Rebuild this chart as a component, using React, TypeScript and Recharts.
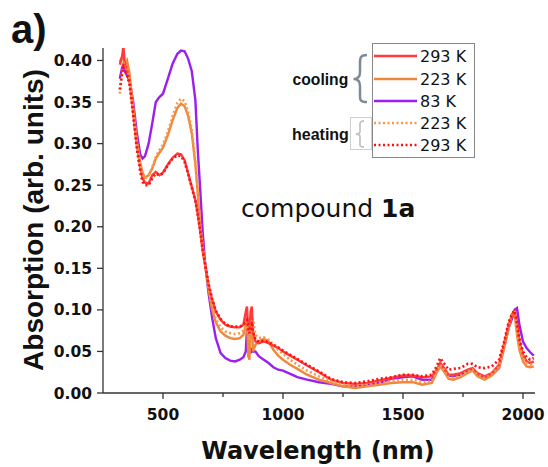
import { LineChart, Line, XAxis, YAxis } from 'recharts';

const wavelengths = [
  320, 330, 335, 340, 350, 360, 375, 390, 405, 415, 425, 440, 455, 470, 485, 500, 520, 540, 560, 575,
  590, 605, 620, 635, 645, 655, 665, 675, 690, 705, 720, 740, 760, 780, 800, 820, 835, 845, 850, 855,
  860, 865, 870, 875, 885, 900, 920, 940, 960, 980, 1000, 1030, 1060, 1100, 1150, 1200, 1250, 1300, 1350, 1400,
  1450, 1500, 1540, 1580, 1620, 1640, 1655, 1670, 1690, 1710, 1740, 1770, 1790, 1810, 1840, 1870, 1900, 1920, 1940, 1955,
  1965, 1975, 1985, 2000, 2015, 2030, 2045,
];

// cooling 293 K
const cool293 = [
  0.395, 0.405, 0.418, 0.398, 0.388, 0.378, 0.34, 0.3, 0.272, 0.258, 0.253, 0.252, 0.262, 0.266, 0.262, 0.265, 0.275, 0.283, 0.288, 0.287,
  0.28, 0.264, 0.248, 0.232, 0.215, 0.195, 0.172, 0.155, 0.13, 0.112, 0.098, 0.088, 0.082, 0.08, 0.079, 0.079, 0.082, 0.098, 0.104, 0.075,
  0.072, 0.098, 0.104, 0.075, 0.062, 0.06, 0.062, 0.06, 0.057, 0.054, 0.05, 0.045, 0.04, 0.033, 0.025, 0.016, 0.012, 0.011, 0.012, 0.015,
  0.018, 0.021, 0.021, 0.019, 0.02, 0.028, 0.036, 0.03, 0.022, 0.022, 0.024, 0.028, 0.03, 0.024, 0.02, 0.024, 0.034, 0.058, 0.082, 0.095,
  0.098, 0.085, 0.062, 0.046, 0.038, 0.036, 0.038,
];

// cooling 223 K
const cool223 = [
  0.398, 0.405, 0.402, 0.395, 0.4, 0.385, 0.345, 0.305, 0.277, 0.265, 0.259, 0.262, 0.27, 0.282, 0.289, 0.295, 0.31, 0.328, 0.343, 0.348,
  0.345, 0.333, 0.312, 0.275, 0.24, 0.2, 0.175, 0.155, 0.125, 0.1, 0.085, 0.074, 0.069, 0.066, 0.065, 0.066, 0.07, 0.082, 0.09, 0.045,
  0.04, 0.085, 0.088, 0.05, 0.058, 0.062, 0.065, 0.062, 0.052, 0.045, 0.04, 0.034, 0.029, 0.022, 0.016, 0.012, 0.008, 0.006, 0.008, 0.01,
  0.012, 0.013, 0.013, 0.01, 0.012, 0.024, 0.032, 0.026, 0.017, 0.016, 0.019, 0.024, 0.027, 0.02, 0.016, 0.021, 0.03, 0.052, 0.078, 0.095,
  0.096, 0.07, 0.052, 0.038, 0.032, 0.031, 0.032,
];

// cooling 83 K
const cool83 = [
  0.378, 0.392, 0.395, 0.388, 0.382, 0.376, 0.352, 0.315, 0.287, 0.282, 0.285, 0.3, 0.324, 0.35, 0.356, 0.36, 0.378, 0.396, 0.408, 0.412,
  0.411, 0.402, 0.387, 0.352, 0.292, 0.245, 0.195, 0.158, 0.12, 0.09, 0.066, 0.048, 0.042, 0.039, 0.038, 0.04, 0.043, 0.05, 0.078, 0.08,
  0.06, 0.048, 0.052, 0.05, 0.05, 0.044, 0.04, 0.036, 0.031, 0.028, 0.027, 0.023, 0.019, 0.016, 0.013, 0.011, 0.008, 0.008, 0.009, 0.012,
  0.017, 0.019, 0.02, 0.016, 0.016, 0.026, 0.036, 0.03, 0.021, 0.02, 0.022, 0.027, 0.029, 0.022, 0.017, 0.022, 0.03, 0.055, 0.078, 0.09,
  0.1, 0.102, 0.082, 0.062, 0.054, 0.049, 0.045,
];

// heating 223 K
const heat223 = [
  0.36, 0.388, 0.398, 0.392, 0.392, 0.38, 0.342, 0.302, 0.274, 0.263, 0.258, 0.262, 0.271, 0.284, 0.292, 0.299, 0.314, 0.333, 0.349, 0.354,
  0.351, 0.338, 0.317, 0.279, 0.243, 0.203, 0.177, 0.157, 0.127, 0.104, 0.089, 0.079, 0.074, 0.072, 0.071, 0.072, 0.075, 0.08, 0.084, 0.07,
  0.064, 0.08, 0.086, 0.088, 0.07, 0.066, 0.067, 0.064, 0.058, 0.052, 0.047, 0.04, 0.034, 0.027, 0.02, 0.014, 0.01, 0.008, 0.01, 0.012,
  0.014, 0.016, 0.016, 0.013, 0.014, 0.026, 0.034, 0.028, 0.019, 0.018, 0.021, 0.026, 0.028, 0.022, 0.018, 0.023, 0.032, 0.055, 0.082, 0.097,
  0.097, 0.074, 0.056, 0.042, 0.036, 0.034, 0.035,
];

// heating 293 K
const heat293 = [
  0.365, 0.385, 0.392, 0.388, 0.382, 0.372, 0.336, 0.296, 0.266, 0.254, 0.25, 0.25, 0.258, 0.264, 0.262, 0.264, 0.274, 0.282, 0.286, 0.285,
  0.278, 0.263, 0.247, 0.231, 0.214, 0.195, 0.173, 0.156, 0.131, 0.113, 0.099, 0.089, 0.083, 0.08, 0.08, 0.08, 0.082, 0.086, 0.088, 0.08,
  0.072, 0.078, 0.082, 0.074, 0.064, 0.062, 0.063, 0.061, 0.058, 0.055, 0.051, 0.046, 0.041, 0.034, 0.026, 0.017, 0.013, 0.012, 0.014, 0.017,
  0.019, 0.022, 0.022, 0.02, 0.022, 0.032, 0.042, 0.036, 0.028, 0.029, 0.03, 0.035, 0.035, 0.031, 0.03, 0.032, 0.04, 0.06, 0.085, 0.096,
  0.099, 0.084, 0.066, 0.05, 0.043, 0.04, 0.042,
];

const xMajor = [500, 1000, 1500, 2000];
const xTicks = [500, 750, 1000, 1250, 1500, 1750, 2000];
const yMajor = [0, 0.05, 0.1, 0.15, 0.2, 0.25, 0.3, 0.35, 0.4];
const yTicks = [0, 0.025, 0.05, 0.075, 0.1, 0.125, 0.15, 0.175, 0.2, 0.225, 0.25, 0.275, 0.3, 0.325, 0.35, 0.375, 0.4];

const RED = '#ff3b3b';
const ORANGE = '#f0873a';
const PURPLE = '#9a1ff0';
const RED_DOT = '#ff1010';
const ORANGE_DOT = '#f59a4c';

const legendRows = [
  { label: '293 K', color: RED, dash: undefined },
  { label: '223 K', color: ORANGE, dash: undefined },
  { label: '83 K', color: PURPLE, dash: undefined },
  { label: '223 K', color: ORANGE_DOT, dash: '2 2.5' },
  { label: '293 K', color: RED_DOT, dash: '2 2.5' },
];

const data = wavelengths.map((w, i) => ({
  w,
  c293: cool293[i],
  c223: cool223[i],
  c83: cool83[i],
  h223: heat223[i],
  h293: heat293[i],
}));

const tickFont = { fontFamily: 'DejaVu Sans', fontWeight: 700, fontSize: 15.5, fill: '#111' };

function XTick(props: any) {
  const { x, y, payload } = props;
  const major = xMajor.includes(payload.value);
  return (
    <g>
      <line x1={x} x2={x} y1={y} y2={y + (major ? 6 : 4)} stroke="#333" strokeWidth={1.3} />
      {major && (
        <text x={x} y={y + 26.5} textAnchor="middle" {...tickFont}>
          {payload.value}
        </text>
      )}
    </g>
  );
}

function YTick(props: any) {
  const { x, y, payload } = props;
  const major = yMajor.some((v) => Math.abs(v - payload.value) < 1e-6);
  return (
    <g>
      <line x1={x - (major ? 6 : 4)} x2={x} y1={y} y2={y} stroke="#333" strokeWidth={1.3} />
      {major && (
        <text x={x - 11} y={y + 5.6} textAnchor="end" {...tickFont}>
          {payload.value.toFixed(2)}
        </text>
      )}
    </g>
  );
}

export default function App() {
  const rowY = [56, 79, 101, 123, 145];
  return (
    <div style={{ position: 'relative', width: 548, height: 467, background: '#fff' }}>
      <style>{'body{margin:0}'}</style>
      <LineChart width={548} height={467} data={data} margin={{ top: 48, right: 13, bottom: 0, left: 0 }}>
        <XAxis
          dataKey="w"
          type="number"
          domain={[250, 2050]}
          ticks={xTicks}
          allowDataOverflow
          height={74}
          tickSize={0}
          tickMargin={0}
          tickLine={false}
          tick={<XTick />}
          axisLine={{ stroke: '#333', strokeWidth: 1.3 }}
        />
        <YAxis
          type="number"
          domain={[0, 0.415]}
          ticks={yTicks}
          allowDataOverflow
          width={103}
          tickSize={0}
          tickMargin={0}
          tickLine={false}
          tick={<YTick />}
          axisLine={{ stroke: '#333', strokeWidth: 1.3 }}
        />
        <Line dataKey="c83" stroke={PURPLE} strokeWidth={2.4} dot={false} isAnimationActive={false} />
        <Line dataKey="c223" stroke={ORANGE} strokeWidth={2.4} dot={false} isAnimationActive={false} />
        <Line dataKey="c293" stroke={RED} strokeWidth={2.4} dot={false} isAnimationActive={false} />
        <Line dataKey="h223" stroke={ORANGE_DOT} strokeWidth={2.6} strokeDasharray="2 2.5" dot={false} isAnimationActive={false} />
        <Line dataKey="h293" stroke={RED_DOT} strokeWidth={2.6} strokeDasharray="2 2.5" dot={false} isAnimationActive={false} />
      </LineChart>
      <svg width={548} height={467} style={{ position: 'absolute', left: 0, top: 0, pointerEvents: 'none' }}>
        <text x={11} y={43} fontFamily="Liberation Sans" fontWeight={700} fontSize={40} fill="#111">
          a)
        </text>
        <text
          transform="translate(43,220) rotate(-90)"
          textAnchor="middle"
          fontFamily="Liberation Sans"
          fontWeight={700}
          fontSize={28}
          fill="#111"
        >
          Absorption (arb. units)
        </text>
        <text x={318} y={459} textAnchor="middle" fontFamily="DejaVu Sans" fontWeight={700} fontSize={24} fill="#111">
          Wavelength (nm)
        </text>
        <text x={241} y={217} fontFamily="DejaVu Sans" fontSize={25} fill="#111">
          compound <tspan fontWeight={700}>1a</tspan>
        </text>

        {/* legend */}
        <rect x={372.5} y={43.5} width={102} height={114} fill="#fff" stroke="#888" strokeWidth={1} />
        {legendRows.map((r, i) => (
          <g key={i}>
            <line x1={374} x2={417} y1={rowY[i]} y2={rowY[i]} stroke={r.color} strokeWidth={2.5} strokeDasharray={r.dash} />
            <text x={420} y={rowY[i] + 6} fontFamily="DejaVu Sans" fontSize={16} fill="#111">
              {r.label}
            </text>
          </g>
        ))}
        <text x={292.5} y={84.5} fontFamily="Liberation Sans" fontWeight={700} fontSize={15.7} fill="#111">
          cooling
        </text>
        <path
          d="M 367 55 C 359 55 360 60 360 66 L 360 72 C 360 77 357 79 353.5 79 C 357 79 360 81 360 86 L 360 93 C 360 99 359 102 367 102"
          fill="none"
          stroke="#7d8b99"
          strokeWidth={2.5}
        />
        <text x={292} y={140} fontFamily="Liberation Sans" fontWeight={700} fontSize={16} fill="#111">
          heating
        </text>
        <rect x={350.5} y={117.5} width={21} height={32} fill="none" stroke="#cfcfcf" strokeWidth={1} />
        <path
          d="M 364 121 C 359 121 360 124 360 128 L 360 131 C 360 133 358 134 356 134 C 358 134 360 135 360 137 L 360 141 C 360 145 359 147 364 147"
          fill="none"
          stroke="#c4c4c4"
          strokeWidth={1.8}
        />
      </svg>
    </div>
  );
}
